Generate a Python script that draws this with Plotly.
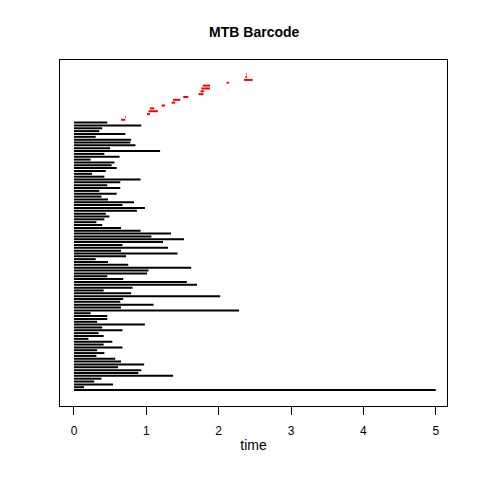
import plotly.graph_objects as go

# persistence barcode, listed top to bottom
# dimension 1 features (red), birth / death
dim1_birth = [2.38, 2.37, 2.35, 2.11, 1.78, 1.76, 1.75, 1.72, 1.51, 1.37,
              1.35, 1.21, 1.05, 1.03, 1.01, 0.71, 0.65]
dim1_death = [2.39, 2.39, 2.47, 2.14, 1.88, 1.88, 1.80, 1.79, 1.58, 1.47,
              1.40, 1.26, 1.11, 1.16, 1.05, 0.72, 0.71]

# dimension 0 features (black), all born at 0
dim0_death = [
    0.46, 0.93, 0.39, 0.35, 0.71, 0.30, 0.79, 0.78, 0.85, 0.50, 1.19, 0.42,
    0.63, 0.23, 0.56, 0.52, 0.59, 0.44, 0.25, 0.42, 0.92, 0.64, 0.46, 0.64,
    0.35, 0.59, 0.38, 0.47, 0.83, 0.67, 0.98, 0.87, 0.44,
    0.49, 0.42, 0.31, 0.39, 0.65, 0.92, 1.34, 1.07, 1.52, 1.23, 0.67, 1.30,
    0.65, 1.43, 0.72, 0.30, 0.47, 0.75, 1.62, 1.03, 1.01, 0.46, 0.68, 1.56,
    1.70, 0.81, 0.41, 0.79, 2.02, 0.68, 0.64, 1.10, 0.65,
    2.28, 0.23, 0.46, 0.46, 0.32, 0.98, 0.39, 0.67, 0.34, 0.41, 0.20, 0.53,
    0.41, 0.67, 0.32, 0.42, 0.31, 0.57, 0.65, 0.97, 0.61, 0.93, 0.89, 1.37,
    0.38, 0.28, 0.54, 0.14, 5.0,
]
dim0_birth = [0.0] * len(dim0_death)

x_ticks = [0, 1, 2, 3, 4, 5]


def _segments(births, deaths, start_y):
    xs, ys = [], []
    for i, (b, d) in enumerate(zip(births, deaths)):
        y = start_y - i
        xs += [b, d, None]
        ys += [y, y, None]
    return xs, ys


n_total = len(dim1_birth) + len(dim0_death)
rx, ry = _segments(dim1_birth, dim1_death, n_total)
bx, by = _segments(dim0_birth, dim0_death, n_total - len(dim1_birth))

fig = go.Figure()
fig.add_trace(go.Scatter(x=bx, y=by, mode="lines",
                         line=dict(color="black", width=2), showlegend=False))
fig.add_trace(go.Scatter(x=rx, y=ry, mode="lines",
                         line=dict(color="red", width=2), showlegend=False))

# page body adds 8px, so margins are shifted up/left by that much
fig.update_layout(
    width=480, height=480,
    margin=dict(l=52, r=41, t=52, b=82),
    paper_bgcolor="white", plot_bgcolor="white",
    font=dict(family="Liberation Sans, Arial", size=12, color="black"),
    title=dict(text="<b>MTB Barcode</b>", x=0.513, xanchor="center",
               y=0.95, yanchor="middle", font=dict(size=14)),
    xaxis=dict(range=[-0.193, 5.155], tickvals=x_ticks, ticks="outside",
               ticklen=8, tickcolor="black", showgrid=False, zeroline=False,
               showline=True, linecolor="black", linewidth=1, mirror=True,
               ticklabelstandoff=6,
               title=dict(text="time", standoff=2)),
    yaxis=dict(range=[-4.6, 117], showticklabels=False, showgrid=False,
               zeroline=False, showline=True, linecolor="black", linewidth=1,
               mirror=True),
)

fig.write_html("out.html")
